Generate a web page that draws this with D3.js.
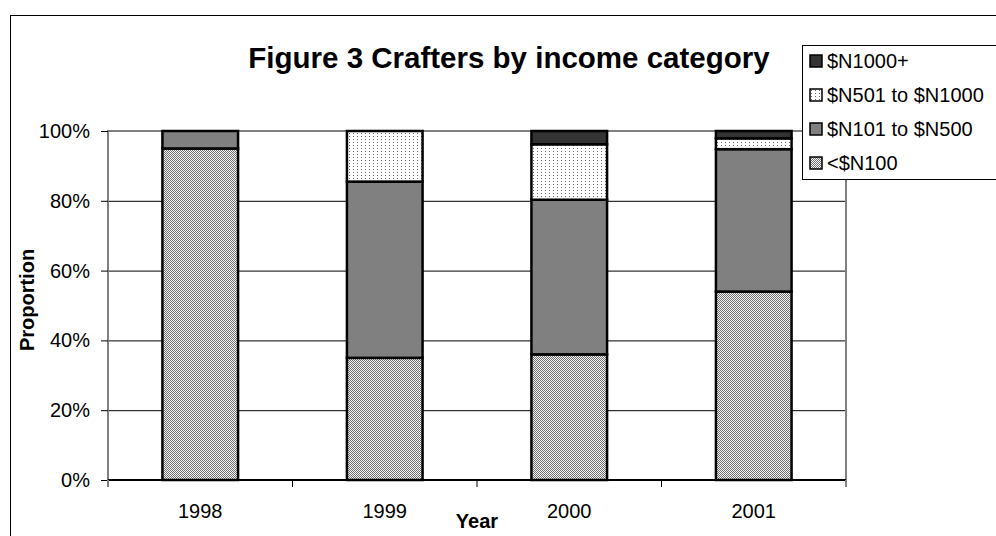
<!DOCTYPE html>
<html>
<head>
<meta charset="utf-8">
<script src="https://cdn.jsdelivr.net/npm/d3@7"></script>
<style>
  html, body { margin: 0; padding: 0; background: #fff; overflow: hidden; }
  svg { display: block; font-family: "Liberation Sans", Arial, sans-serif; }
</style>
</head>
<body>
<svg id="chart" width="996" height="536"></svg>
<script>
// values (share of crafters, %)
const years = ['1998', '1999', '2000', '2001']
const under100 = [95, 35, 36, 54]
const from101to500 = [5, 50.5, 44.3, 40.8]
const from501to1000 = [0, 14.5, 15.9, 3.1]
const over1000 = [0, 0, 3.8, 2.1]
const yTicks = [0, 0.2, 0.4, 0.6, 0.8, 1]

const seriesNames = ['<$N100', '$N101 to $N500', '$N501 to $N1000', '$N1000+']
const seriesValues = [under100, from101to500, from501to1000, over1000]

const svg = d3.select('#chart')

// fill patterns like the old spreadsheet hatching
const defs = svg.append('defs')
const dense = defs.append('pattern').attr('id', 'pat-dense')
  .attr('width', 2).attr('height', 2).attr('patternUnits', 'userSpaceOnUse')
dense.append('rect').attr('width', 2).attr('height', 2).attr('fill', '#f4f4f4')
dense.append('rect').attr('width', 1).attr('height', 1).attr('fill', '#707070')
dense.append('rect').attr('x', 1).attr('y', 1).attr('width', 1).attr('height', 1).attr('fill', '#707070')

const sparse = defs.append('pattern').attr('id', 'pat-sparse')
  .attr('width', 4).attr('height', 3).attr('patternUnits', 'userSpaceOnUse')
sparse.append('rect').attr('width', 4).attr('height', 3).attr('fill', '#fff')
sparse.append('rect').attr('x', 1).attr('y', 1).attr('width', 1).attr('height', 1).attr('fill', '#6a6a6a')

const fills = ['url(#pat-dense)', '#808080', 'url(#pat-sparse)', '#333333']

// outer chart frame (runs off the right and bottom edge)
svg.append('rect')
  .attr('x', 10.5).attr('y', 15.5)
  .attr('width', 1000).attr('height', 600)
  .attr('fill', '#fff').attr('stroke', '#000').attr('stroke-width', 1)

const plot = { left: 108, right: 846, top: 131, bottom: 480 }

const x = d3.scaleBand()
  .domain(years)
  .range([plot.left, plot.right])
  .paddingInner(0.59)
  .paddingOuter(0.295)

const y = d3.scaleLinear()
  .domain([0, 1])
  .range([plot.bottom, plot.top])

// gridlines
svg.append('g')
  .selectAll('line')
  .data(yTicks.filter(d => d > 0 && d < 1))
  .join('line')
  .attr('x1', plot.left).attr('x2', plot.right)
  .attr('y1', d => y(d) + 0.5).attr('y2', d => y(d) + 0.5)
  .attr('stroke', '#000').attr('stroke-width', 1)

// plot area border: top, left, right in grey
svg.append('path')
  .attr('d', `M${plot.left},${plot.bottom} V${plot.top} H${plot.right} V${plot.bottom}`)
  .attr('fill', 'none').attr('stroke', '#808080').attr('stroke-width', 2)

// stacked bars
const table = years.map((yr, i) => {
  const row = { year: yr }
  seriesNames.forEach((s, j) => { row[s] = seriesValues[j][i] / 100 })
  return row
})
const stacked = d3.stack().keys(seriesNames)(table)

svg.append('g')
  .selectAll('g')
  .data(stacked)
  .join('g')
  .attr('fill', (d, i) => fills[i])
  .selectAll('rect')
  .data(d => d.filter(p => p[1] - p[0] > 0))
  .join('rect')
  .attr('x', d => x(d.data.year))
  .attr('width', x.bandwidth())
  .attr('y', d => y(d[1]))
  .attr('height', d => y(d[0]) - y(d[1]))
  .attr('stroke', '#000')
  .attr('stroke-width', 2.5)

// y axis
const yAxis = svg.append('g')
  .attr('transform', `translate(${plot.left},0)`)
  .call(d3.axisLeft(y).tickValues(yTicks).tickFormat(d3.format('.0%')).tickSize(7).tickPadding(11))
yAxis.select('.domain').remove()
yAxis.selectAll('line').attr('stroke', '#000')
yAxis.selectAll('text')
  .attr('font-size', 20).attr('fill', '#000')
  .attr('font-family', '"Liberation Sans", Arial, sans-serif')

// x axis: line at 0 and boundary ticks
svg.append('line')
  .attr('x1', plot.left).attr('x2', plot.right)
  .attr('y1', plot.bottom).attr('y2', plot.bottom)
  .attr('stroke', '#000').attr('stroke-width', 2)

const boundaries = d3.range(years.length + 1).map(i => plot.left + i * (plot.right - plot.left) / years.length)
svg.append('g')
  .selectAll('line')
  .data(boundaries)
  .join('line')
  .attr('x1', d => d).attr('x2', d => d)
  .attr('y1', plot.bottom).attr('y2', plot.bottom + 7)
  .attr('stroke', (d, i) => (i === 0 || i === years.length) ? '#808080' : '#000')
  .attr('stroke-width', (d, i) => (i === 0 || i === years.length) ? 2 : 1)

svg.append('g')
  .selectAll('text')
  .data(years)
  .join('text')
  .attr('x', d => x(d) + x.bandwidth() / 2)
  .attr('y', 518)
  .attr('text-anchor', 'middle')
  .attr('font-size', 20)
  .text(d => d)

// axis titles
svg.append('text')
  .attr('x', 477).attr('y', 528)
  .attr('text-anchor', 'middle')
  .attr('font-size', 20).attr('font-weight', 'bold')
  .text('Year')

svg.append('text')
  .attr('transform', 'translate(34,300) rotate(-90)')
  .attr('text-anchor', 'middle')
  .attr('font-size', 20).attr('font-weight', 'bold')
  .text('Proportion')

// title
svg.append('text')
  .attr('x', 509).attr('y', 68)
  .attr('text-anchor', 'middle')
  .attr('font-size', 29.5).attr('font-weight', 'bold')
  .text('Figure 3 Crafters by income category')

// legend (top entry is the top of the stack)
const legend = svg.append('g').attr('transform', 'translate(802,45)')
legend.append('rect')
  .attr('x', 0.5).attr('y', 0.5)
  .attr('width', 260).attr('height', 134)
  .attr('fill', '#fff').attr('stroke', '#000').attr('stroke-width', 1)

const legendItems = seriesNames.map((s, i) => ({ name: s, fill: fills[i] })).reverse()
const item = legend.selectAll('g.item')
  .data(legendItems)
  .join('g')
  .attr('class', 'item')
  .attr('transform', (d, i) => `translate(0,${16 + i * 34})`)
item.append('rect')
  .attr('x', 8).attr('y', -6)
  .attr('width', 12).attr('height', 12)
  .attr('fill', d => d.fill)
  .attr('stroke', '#000').attr('stroke-width', 1.5)
item.append('text')
  .attr('x', 25).attr('y', 7)
  .attr('font-size', 20)
  .text(d => d.name)
</script>
</body>
</html>
